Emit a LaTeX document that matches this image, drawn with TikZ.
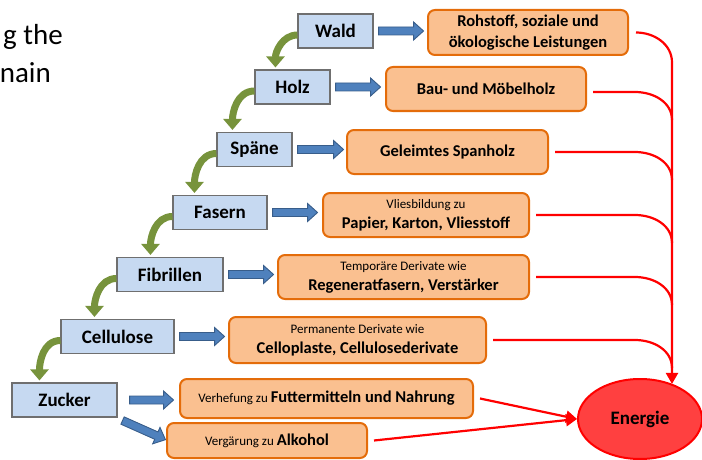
\documentclass[tikz,border=0pt]{standalone}
\usepackage{fontspec}
\setmainfont{Carlito}
\usetikzlibrary{arrows.meta,calc,shapes.geometric}
\definecolor{bfill}{HTML}{C6D9F1}
\definecolor{bline}{HTML}{6F6F6F}
\definecolor{ofill}{HTML}{FAC090}
\definecolor{oline}{HTML}{E46C0A}
\definecolor{afill}{HTML}{4F81BD}
\definecolor{aline}{HTML}{385D8A}
\definecolor{gcol}{HTML}{77933C}
\definecolor{rcol}{HTML}{FF0000}
\definecolor{efill}{HTML}{FF4040}
\newcommand{\smtxt}{\mdseries\fontsize{13}{15}\selectfont}
\newcommand{\bgtxt}{\bfseries\fontsize{16.5}{20}\selectfont}
\tikzset{
  pics/barrow/.style={code={
    \draw[draw=aline, fill=afill, line width=0.9pt, line join=miter]
      (0,-4) -- ({#1-10},-4) -- ({#1-10},-9) -- (#1,0) -- ({#1-10},9) -- ({#1-10},4) -- (0,4) -- cycle;}}
}
\begin{document}
\begin{tikzpicture}[x=1pt,y=-1pt,
  bbox/.style={draw=bline, line width=1.1pt, fill=bfill, minimum height=34pt, inner sep=0pt,
    font=\bfseries\fontsize{19}{21}\selectfont},
  obox/.style={draw=oline, line width=2pt, fill=ofill, rounded corners=7pt, inner sep=0pt,
    align=center, font=\bgtxt},
  garrow/.style={draw=gcol, line width=7pt, -{Triangle[width=18pt,length=11pt]}},
  rline/.style={draw=rcol, line width=2.2pt},
  rtip/.style={-{Triangle[width=12pt,length=11pt]}}
]
\useasboundingbox (0,0) rectangle (702,460);

% cut-off slide text
\node[anchor=base east, inner sep=0pt, font=\fontsize{29}{31}\selectfont] (t1) at (63,45) {g the};
\node[anchor=base east, inner sep=0pt, font=\fontsize{29}{31}\selectfont] (t2) at (51,83) {nain};

% blue chain boxes
\node[bbox, minimum width=75pt] (wald) at (335.5,31) {Wald};
\node[bbox, minimum width=75pt] (holz) at (292.5,87) {Holz};
\node[bbox, minimum width=75pt] (spaene) at (254.5,149.5) {Späne};
\node[bbox, minimum width=94pt] (fasern) at (220,212.5) {Fasern};
\node[bbox, minimum width=106pt] (fibrillen) at (170,274.5) {Fibrillen};
\node[bbox, minimum width=113pt] (cellulose) at (117.5,336.5) {Cellulose};
\node[bbox, minimum width=105pt] (zucker) at (64.5,400) {Zucker};

% orange result boxes
\node[obox, minimum width=200pt, minimum height=45pt, font=\bfseries\fontsize{16.5}{21}\selectfont] (rohstoff) at (528,32.5)
  {Rohstoff, soziale und\\ökologische Leistungen};
\node[obox, minimum width=200pt, minimum height=44pt] (bau) at (486,89) {Bau- und Möbelholz};
\node[obox, minimum width=201pt, minimum height=44pt] (span) at (447.5,152) {Geleimtes Spanholz};
\node[obox, minimum width=206pt, minimum height=44pt] (vlies) at (426,215)
  {{\smtxt Vliesbildung zu}\\Papier, Karton, Vliesstoff};
\node[obox, minimum width=251pt, minimum height=44pt] (temp) at (403.5,277)
  {{\smtxt Temporäre Derivate wie}\\Regeneratfasern, Verstärker};
\node[obox, minimum width=257pt, minimum height=46pt] (perm) at (357.5,340)
  {{\smtxt Permanente Derivate wie}\\Celloplaste, Cellulosederivate};
\node[obox, minimum width=293pt, minimum height=39pt] (futter) at (326.5,398.5)
  {{\smtxt Verhefung zu }Futtermitteln und Nahrung};
\node[obox, minimum width=200pt, minimum height=35pt] (alkohol) at (267,440.5)
  {{\smtxt Vergärung zu }Alkohol};

% energy
\node[ellipse, draw=rcol, line width=2pt, fill=efill, minimum width=124pt, minimum height=80pt,
  inner sep=0pt, font=\bfseries\fontsize{19}{21}\selectfont] (energie) at (640,419) {Energie};

% green chain arrows
\draw[garrow] ([yshift=-4pt]wald.west) to[out=180,in=90] ($(holz.north -| wald.west)+(-22,-2)$);
\draw[garrow] ([yshift=-4pt]holz.west) to[out=180,in=90] ($(spaene.north -| holz.west)+(-22,-2)$);
\draw[garrow] ([yshift=-4pt]spaene.west) to[out=180,in=90] ($(fasern.north -| spaene.west)+(-22,-2)$);
\draw[garrow] ([yshift=-4pt]fasern.west) to[out=180,in=90] ($(fibrillen.north -| fasern.west)+(-22,-2)$);
\draw[garrow] ([yshift=-4pt]fibrillen.west) to[out=180,in=90] ($(cellulose.north -| fibrillen.west)+(-22,-2)$);
\draw[garrow] ([yshift=-4pt]cellulose.west) to[out=180,in=90] ($(zucker.north -| cellulose.west)+(-21,-2)$);

% blue block arrows
\pic at ([xshift=5pt]wald.east) {barrow=45};
\pic at ([xshift=5pt]holz.east) {barrow=45};
\pic at ([xshift=5pt]spaene.east) {barrow=46};
\pic at ([xshift=5pt]fasern.east) {barrow=45};
\pic at ([xshift=5pt]fibrillen.east) {barrow=45};
\pic at ([xshift=5pt]cellulose.east) {barrow=45};
\pic at ([xshift=12pt]zucker.east) {barrow=44};
\pic[rotate=-24] at ([shift={(5pt,-3pt)}]zucker.south east) {barrow=47};

% red energy lines
\coordinate (cx) at (635,0);
\coordinate (vx) at (672,0);
\draw[rline, rtip] ([xshift=7pt]rohstoff.east) to[out=0,in=90] ($(rohstoff.east -| vx)+(0,30)$) -- (vx |- energie.47);
\draw[rline] ([xshift=6pt,yshift=-3pt]bau.east) -- ([yshift=-3pt]bau.east -| cx) to[out=0,in=90] ($(bau.east -| vx)+(0,31)$);
\draw[rline] ([xshift=6pt]span.east) -- (span.east -| cx) to[out=0,in=90] ($(span.east -| vx)+(0,28)$);
\draw[rline] ([xshift=6pt]vlies.east) -- (vlies.east -| cx) to[out=0,in=90] ($(vlies.east -| vx)+(0,28)$);
\draw[rline] ([xshift=6pt]temp.east) -- (temp.east -| cx) to[out=0,in=90] ($(temp.east -| vx)+(0,28)$);
\draw[rline] ([xshift=6pt]perm.east) -- (perm.east -| cx) to[out=0,in=90] ($(perm.east -| vx)+(0,28)$);
\draw[rline, rtip] ([xshift=6pt]futter.east) -- (energie.west);
\draw[rline, rtip] ([xshift=6pt]alkohol.east) -- (energie.west);
\end{tikzpicture}
\end{document}
